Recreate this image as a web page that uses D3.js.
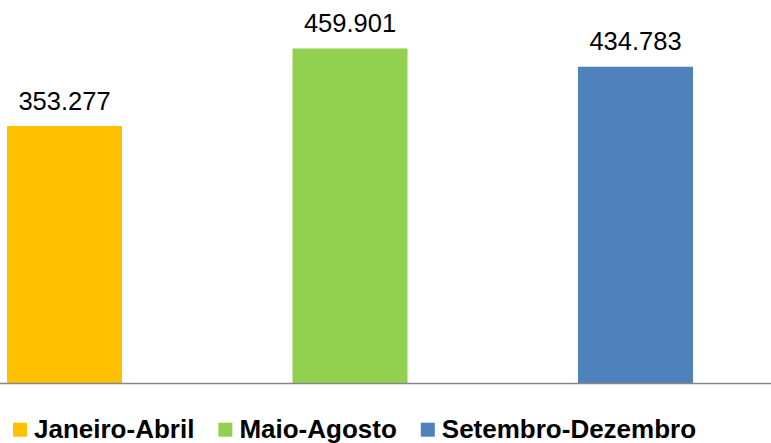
<!DOCTYPE html>
<html><head><meta charset="utf-8">
<script src="https://cdn.jsdelivr.net/npm/d3@7"></script>
<style>body{margin:0;background:#fff}svg{display:block}</style>
</head><body>
<svg id="c" width="771" height="443"></svg>
<script>
const categories = ["Janeiro-Abril", "Maio-Agosto", "Setembro-Dezembro"];
const values = [353.277, 459.901, 434.783];
const labels = ["353.277", "459.901", "434.783"];
const colors = ["#FFC000", "#92D050", "#4F81BD"];

const svg = d3.select("#c");
const x = d3.scaleBand().domain(categories).range([7, 693]).paddingInner(0.5972).paddingOuter(0);
const y = d3.scaleLinear().domain([0, 500]).range([383, 19.3]);

svg.selectAll("rect.bar").data(categories).join("rect")
  .attr("class", "bar")
  .attr("x", d => x(d)).attr("width", x.bandwidth())
  .attr("y", (d, i) => y(values[i])).attr("height", (d, i) => y(0) - y(values[i]))
  .attr("fill", (d, i) => colors[i]);

svg.append("line").attr("x1", 0).attr("x2", 771).attr("y1", y(0) + 0.5).attr("y2", y(0) + 0.5)
  .attr("stroke", "#868686").attr("stroke-width", 1.5);

svg.selectAll("text.lbl").data(categories).join("text")
  .attr("class", "lbl")
  .attr("x", d => x(d) + x.bandwidth() / 2)
  .attr("y", (d, i) => y(values[i]) - 16.5)
  .attr("text-anchor", "middle")
  .style("font-family", "Liberation Sans, Arial, sans-serif")
  .style("font-size", "25.5px").attr("fill", "#000")
  .text((d, i) => labels[i]);

// legend
const lg = svg.append("g");
let cx = 13;
categories.forEach((c, i) => {
  lg.append("rect").attr("x", cx).attr("y", 422.7).attr("width", 14).attr("height", 14).attr("fill", colors[i]);
  const t = lg.append("text").attr("x", cx + 21).attr("y", 437.5)
    .style("font-family", "Liberation Sans, Arial, sans-serif")
    .style("font-size", "26px").style("font-weight", "bold").attr("fill", "#000")
    .text(c);
  const w = t.node().getComputedTextLength();
  cx = cx + 21 + w + 24;
});
</script>
</body></html>
